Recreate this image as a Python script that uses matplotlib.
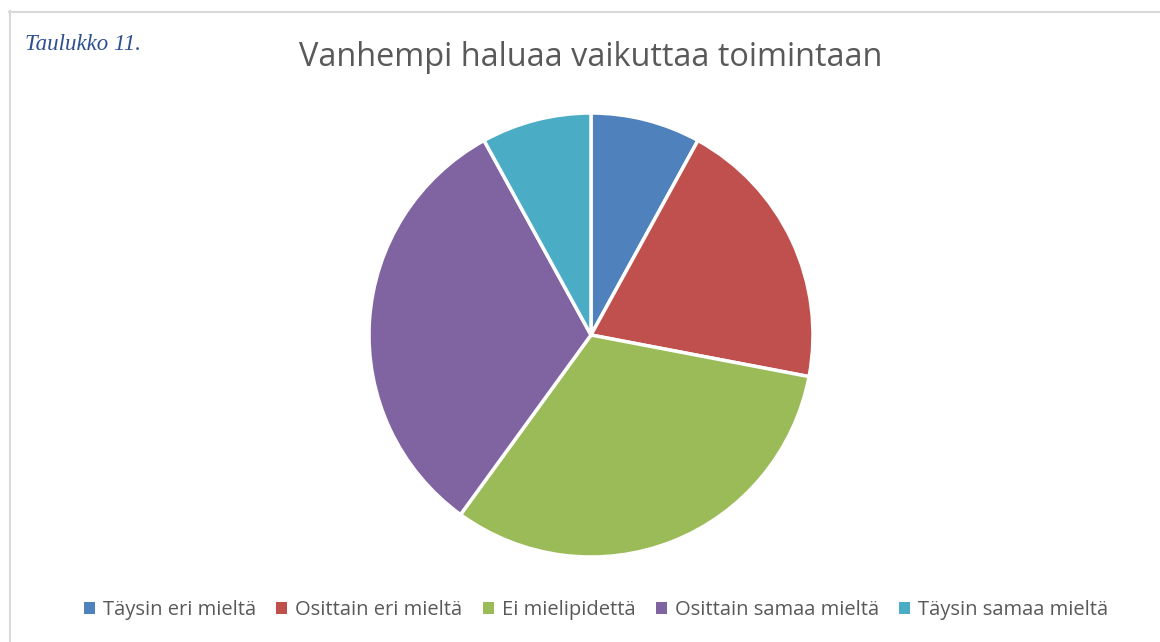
import matplotlib
matplotlib.use('Agg')
import matplotlib.pyplot as plt
from matplotlib.lines import Line2D
from matplotlib.patches import Patch

labels = ['Täysin eri mieltä', 'Osittain eri mieltä', 'Ei mielipidettä',
          'Osittain samaa mieltä', 'Täysin samaa mieltä']
values = [2, 5, 8, 8, 2]
colors = ['#4F81BD', '#C0504D', '#9BBB59', '#8064A2', '#4BACC6']
title = 'Vanhempi haluaa vaikuttaa toimintaan'

W, H = 1160, 642
fig = plt.figure(figsize=(W / 100, H / 100), dpi=100)

# chart frame (top and left edges visible)
fig.add_artist(Line2D([9 / W, 1], [1 - 11.5 / H] * 2, color='#D9D9D9', lw=1.5))
fig.add_artist(Line2D([9.5 / W] * 2, [0, 1 - 11 / H], color='#D9D9D9', lw=1.5))

cx, cy, r = 591, 335, 222
ax = fig.add_axes([(cx - r) / W, (H - cy - r) / H, 2 * r / W, 2 * r / H])
ax.pie(values, colors=colors, startangle=90, counterclock=False,
       wedgeprops=dict(edgecolor='white', linewidth=2.5))
ax.set_xlim(-1.0, 1.0)
ax.set_ylim(-1.0, 1.0)
ax.set_aspect('equal')
ax.axis('off')

fig.text(591 / W, 1 - 58 / H, title, ha='center', va='center',
         fontsize=23.4, color='#595959', family='Open Sans')

fig.text(25 / W, 1 - 45 / H, 'Taulukko 11.', ha='left', va='center',
         fontsize=16.5, color='#2F4F8F', family='Liberation Serif', style='italic')

handles = [Patch(facecolor=c, edgecolor='none') for c in colors]
fig.legend(handles, labels, loc='center', bbox_to_anchor=(596 / W, 1 - 610 / H),
           ncol=5, frameon=False, handlelength=0.55, handleheight=0.55,
           handletextpad=0.4, columnspacing=1.0,
           prop=dict(family='Open Sans', size=14.5), labelcolor='#595959')

fig.savefig('out.png', dpi=100, facecolor='white')
